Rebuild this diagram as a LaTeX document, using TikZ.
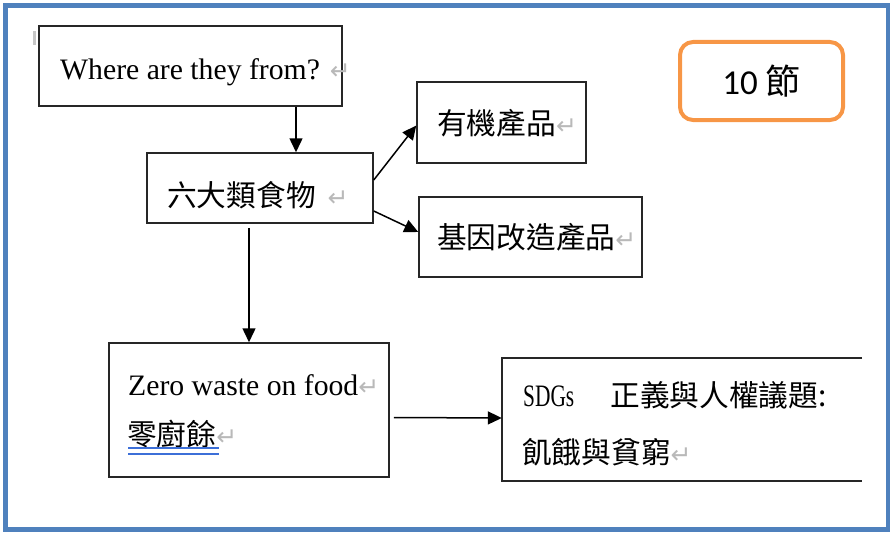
\documentclass[tikz,border=0pt]{standalone}
\usepackage{fontspec}
\usepackage{graphicx}
\setmainfont{Liberation Serif}
\newfontfamily\cjk{Noto Sans CJK TC}
\newfontfamily\symf{DejaVu Sans}
\newfontfamily\calib{Carlito}
\usetikzlibrary{arrows.meta}
\definecolor{frameblue}{HTML}{4F81BD}
\definecolor{tagorange}{HTML}{F79646}
\definecolor{ulblue}{HTML}{3C6FD8}
\newcommand{\retmark}{{\symf\fontsize{25}{25}\selectfont\color{gray!55}↵}}

\begin{document}
\begin{tikzpicture}[x=1pt,y=-1pt,
  box/.style={draw=black!85,line width=1.5pt,inner sep=0pt},
  tag/.style={draw=tagorange,line width=4pt,rounded corners=13pt,inner sep=0pt,
    font=\fontsize{35}{35}\selectfont},
  txt/.style={anchor=base west,inner sep=0pt,font=\fontsize{29.7}{36}\selectfont},
  arr/.style={line width=1.5pt,-{Triangle[length=14pt,width=13pt]}}]
\useasboundingbox (0,0) rectangle (890,532);
\draw[frameblue,line width=5pt] (5.5,5.5) rectangle (888.5,529.5);
\fill[gray!45] (33,31) rectangle (36,45);

\node[box,minimum width=303pt,minimum height=80pt] (where) at (190.5,66) {};
\node[box,minimum width=226pt,minimum height=70pt] (six) at (260,188) {};
\node[box,minimum width=169pt,minimum height=81pt] (organic) at (501.5,122.5) {};
\node[box,minimum width=223pt,minimum height=80pt] (gmo) at (530.5,237) {};
\node[box,minimum width=280pt,minimum height=134pt] (zero) at (249,410) {};
\node[inner sep=0pt,minimum width=360pt,minimum height=123pt] (sdgs) at (682,419.5) {};
\draw[box] (sdgs.north east) -- (sdgs.north west) -- (sdgs.south west) -- (sdgs.south east);
\node[tag,minimum width=163pt,minimum height=78pt] (days) at (761.5,81) {\calib 10 \cjk 節};

\node[txt] (wheretxt) at (60,80) {Where are they from? \retmark};
\node[txt] (sixtxt) at (167,206) {\cjk 六大類食物\hspace{12pt}\retmark};
\node[txt] (organictxt) at (437,134) {\cjk 有機產品\retmark};
\node[txt] (gmotxt) at (437,248) {\cjk 基因改造產品\retmark};
\node[txt] (zerotxtA) at (128,395) {Zero waste on food\retmark};
\node[txt] (zerotxtB) at (127,445) {\cjk 零廚餘\retmark};
\draw[ulblue,line width=1.2pt] (128,448) -- (219,448);
\draw[ulblue,line width=1.2pt] (128,454) -- (219,454);
\node[txt] (sdgstxtA) at (523,406) {\scalebox{0.72}[1.05]{SDGs}\hspace{36pt}{\cjk 正義與人權議題:}};
\node[txt] (sdgstxtB) at (522,463) {\cjk 飢餓與貧窮\retmark};

\draw[arr] ([xshift=105.5pt]where.south) -- ([xshift=36pt]six.north);
\draw[arr] ([yshift=8pt]six.east) -- ([yshift=-3pt]organic.west);
\draw[arr] ([yshift=-23pt]six.east) -- ([yshift=5pt]gmo.west);
\draw[arr] ([xshift=-11pt,yshift=-4pt]six.south) -- (zero.north);
\draw[arr] ([xshift=4pt,yshift=-7.5pt]zero.east) -- ([yshift=1.5pt]sdgs.west);
\end{tikzpicture}
\end{document}
